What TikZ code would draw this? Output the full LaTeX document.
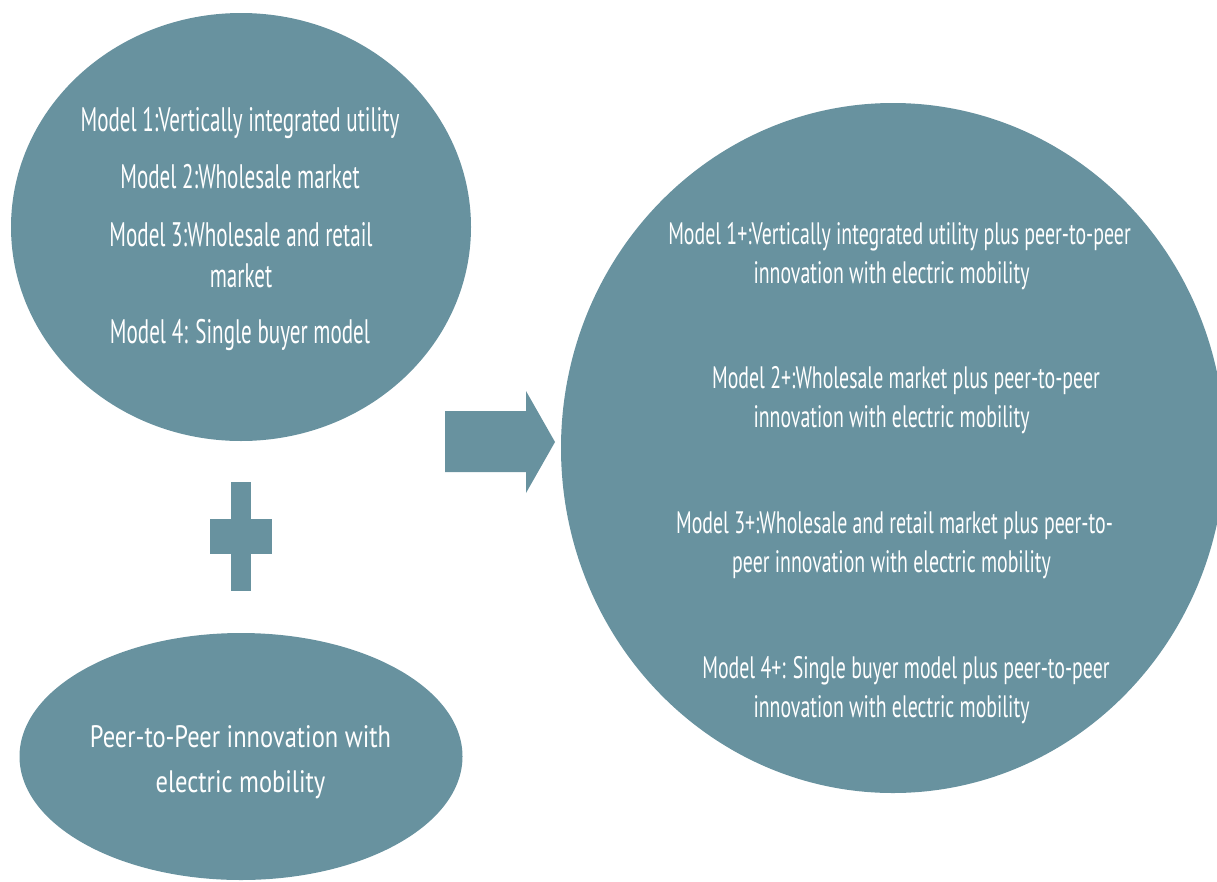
\documentclass[tikz,border=0pt]{standalone}
\usepackage{fontspec}
\setmainfont{PT Sans}
\newfontfamily\fleft{PT Sans}[FakeStretch=0.62]
\newfontfamily\fright{PT Sans}[FakeStretch=0.64]
\newfontfamily\fbottom{PT Sans}[FakeStretch=0.79]
\usetikzlibrary{shapes.geometric}
\definecolor{tealc}{RGB}{104,146,159}
\tikzset{
  blob/.style={ellipse, fill=tealc, draw=none, inner sep=0pt},
  sym/.style={fill=tealc, draw=none},
  ltext/.style={text=white, align=center, anchor=base, inner sep=0pt,
    font=\fleft\fontsize{34}{41}\selectfont},
  rtext/.style={text=white, align=center, anchor=base, inner sep=0pt,
    font=\fright\fontsize{31}{39}\selectfont},
  btext/.style={text=white, align=center, anchor=base, inner sep=0pt,
    font=\fbottom\fontsize{31}{45}\selectfont}
}
\begin{document}
\begin{tikzpicture}[x=1pt, y=-1pt]
  \useasboundingbox (0,0) rectangle (1217,881);
  \clip (0,0) rectangle (1217,881);
  % shapes
  \node[blob, minimum width=460pt, minimum height=428pt] (models) at (241,227) {};
  \node[blob, minimum width=443pt, minimum height=247pt] (p2p) at (241,756.5) {};
  \node[blob, minimum width=664pt, minimum height=690pt] (result) at (893,448) {};
  % plus sign
  \fill[sym] (230.7,481.7) rectangle (250.7,591);
  \fill[sym] (209.7,519) rectangle (271.7,554);
  % block arrow
  \fill[sym] (445,411) -- (526,411) -- (526,391) -- (555,442) -- (526,493)
    -- (526,472) -- (445,472) -- cycle;
  % left texts (base anchor = baseline of the last line)
  \node[ltext] (m1) at (240,131) {Model 1:Vertically integrated utility};
  \node[ltext] (m2) at (240,188) {Model 2:Wholesale market};
  \node[ltext] (m3) at (241,287) {Model 3:Wholesale and retail\\market};
  \node[ltext] (m4) at (240,343) {Model 4: Single buyer model};
  % bottom text
  \node[btext] (p2pt) at (240.5,792) {Peer-to-Peer innovation with\\electric mobility};
  % right texts
  \node[rtext] (r1) at (891.5,283) {\hspace*{16pt}Model 1+:Vertically integrated utility plus peer-to-peer\\innovation with electric mobility};
  \node[rtext] (r2) at (891.5,427) {\hspace*{29pt}Model 2+:Wholesale market plus peer-to-peer\\innovation with electric mobility};
  \node[rtext] (r3) at (891.5,572) {\hspace*{6pt}Model 3+:Wholesale and retail market plus peer-to-\\peer innovation with electric mobility};
  \node[rtext] (r4) at (891.5,717) {\hspace*{29pt}Model 4+: Single buyer model plus peer-to-peer\\innovation with electric mobility};
\end{tikzpicture}
\end{document}
